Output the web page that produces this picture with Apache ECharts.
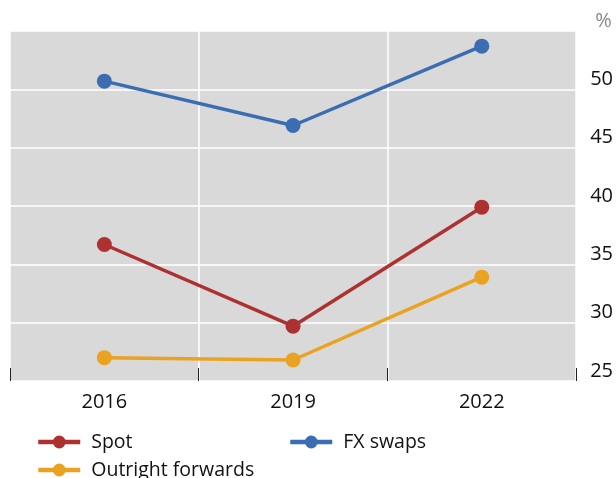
<!DOCTYPE html>
<html>
<head>
<meta charset="utf-8">
<script src="https://cdn.jsdelivr.net/npm/echarts@6/dist/echarts.min.js"></script>
<style>
  html, body { margin: 0; padding: 0; background: #fff; }
  #chart { width: 616px; height: 478px; }
</style>
</head>
<body>
<div id="chart"></div>
<script>
// data
var years = ["2016", "2019", "2022"];
var spot = [36.7, 29.7, 39.9];
var fxSwaps = [50.7, 46.9, 53.7];
var outright = [27.0, 26.8, 33.9];
var yTicks = [25, 30, 35, 40, 45, 50];

var font = "'Open Sans', 'Noto Sans', sans-serif";

function lineSeries(name, data, color) {
  return {
    name: name,
    type: "line",
    data: data,
    symbol: "circle",
    symbolSize: 15,
    lineStyle: { width: 3.5, color: color },
    itemStyle: { color: color },
    emphasis: { disabled: true },
    animation: false
  };
}

function legendItem(name, left, top) {
  return {
    data: [name],
    left: left, top: top,
    itemWidth: 42, itemHeight: 16,
    lineStyle: { width: 4.5 },
    textStyle: { fontSize: 19.5, color: "#111", fontFamily: font, padding: [0, 0, 0, 6] }
  };
}

var chart = echarts.init(document.getElementById("chart"));
chart.setOption({
  grid: {
    left: 10, right: 37, top: 31, bottom: 97,
    show: true, backgroundColor: "#d9d9d9", borderWidth: 0
  },
  xAxis: {
    type: "category",
    data: years,
    boundaryGap: true,
    axisLine: { show: false },
    axisTick: { show: true, inside: true, length: 13, lineStyle: { color: "#222", width: 1 } },
    axisLabel: { margin: 11, fontSize: 20, color: "#111", fontFamily: font },
    splitLine: { show: true, lineStyle: { color: "#fff", width: 1.5 } }
  },
  yAxis: {
    type: "value",
    position: "right",
    min: 25, max: 55, interval: 5,
    axisLine: { show: false },
    axisTick: { show: false },
    axisLabel: {
      margin: 14, fontSize: 20, color: "#111", fontFamily: font,
      verticalAlign: "bottom", showMaxLabel: false,
      formatter: function (v) { return yTicks.indexOf(v) >= 0 ? String(v) : ""; }
    },
    splitLine: { show: true, lineStyle: { color: "#fff", width: 1.5 } },
    name: "%",
    nameLocation: "end",
    nameGap: 0,
    nameTextStyle: { fontSize: 20, color: "#888", fontFamily: font, align: "left", padding: [0, 0, 0, 19] }
  },
  legend: [
    legendItem("Spot", 31, 427),
    legendItem("Outright forwards", 31, 455),
    legendItem("FX swaps", 283, 427)
  ],
  series: [
    lineSeries("Spot", spot, "#ae3131"),
    lineSeries("FX swaps", fxSwaps, "#3b6db3"),
    lineSeries("Outright forwards", outright, "#eaa221")
  ]
});
</script>
</body>
</html>
